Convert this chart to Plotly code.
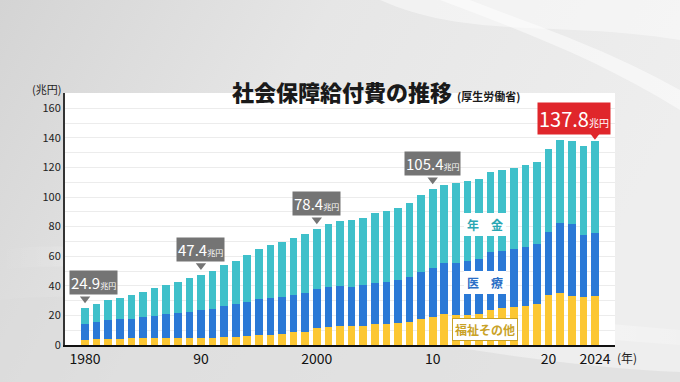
import base64
import plotly.graph_objects as go

years = list(range(1980, 2025))
# 福祉その他 (welfare & others), 医療 (medical), 年金 (pension) — 兆円
welfare = [3.7, 3.9, 4.1, 4.3, 4.4, 4.5, 4.7, 4.9, 4.8, 4.8,
           4.8, 4.9, 5.1, 5.4, 5.8, 6.7, 6.9, 7.4, 8.5, 8.9,
           11.3, 12.2, 13.1, 12.6, 13.1, 14.0, 14.4, 14.7, 15.8, 17.8,
           19.1, 20.9, 20.3, 20.0, 21.2, 23.5, 24.7, 25.5, 26.1, 27.6,
           33.5, 35.3, 32.8, 32.3, 33.0]
medical = [10.7, 11.6, 12.6, 13.1, 13.5, 14.3, 15.2, 16.0, 16.7, 17.6,
           18.6, 19.7, 21.1, 22.0, 23.1, 24.1, 25.2, 25.1, 25.0, 26.1,
           26.6, 27.1, 26.6, 26.9, 27.4, 28.1, 28.5, 29.3, 30.0, 31.6,
           33.2, 34.4, 35.2, 36.5, 36.9, 39.1, 38.9, 39.4, 40.0, 40.6,
           42.8, 47.4, 49.0, 41.8, 43.0]
pension = [10.5, 12.0, 13.4, 14.6, 15.6, 16.9, 18.6, 19.8, 21.0, 22.6,
           24.0, 25.5, 27.6, 29.4, 31.6, 34.1, 35.4, 36.9, 38.6, 40.0,
           40.5, 42.3, 44.1, 44.8, 45.5, 46.8, 47.6, 48.8, 49.9, 52.2,
           53.1, 52.8, 53.7, 54.2, 54.0, 54.5, 54.7, 55.0, 55.3, 55.7,
           55.9, 55.9, 55.9, 60.1, 61.8]
totals = [round(a + b + c, 1) for a, b, c in zip(welfare, medical, pension)]

tick_years = [1980, 1990, 2000, 2010, 2020, 2024]
tick_labels = ["1980", "90", "2000", "10", "20", "2024"]
callout_years = [1980, 1990, 2000, 2010]
final_year = 2024

series_names = ["福祉その他", "医療", "年金"]
series_colors = ["#fcc733", "#2b79d6", "#3fc0ca"]
label_text_colors = ["#c9a227", "#2b6fc6", "#2aa7b3"]

FONT = "Noto Sans CJK JP"

# decorative background (gray gradient with soft white swooshes)
bg_svg = """<svg xmlns='http://www.w3.org/2000/svg' width='680' height='382' viewBox='0 0 680 382'>
<defs>
<linearGradient id='g' x1='0' y1='0' x2='1' y2='0.3'>
<stop offset='0' stop-color='#d4d4d4'/><stop offset='0.45' stop-color='#e6e6e6'/>
<stop offset='1' stop-color='#eeeeee'/></linearGradient>
<linearGradient id='w' x1='0' y1='0' x2='1' y2='0'>
<stop offset='0' stop-color='#ffffff' stop-opacity='0'/><stop offset='0.5' stop-color='#ffffff' stop-opacity='0.7'/>
<stop offset='1' stop-color='#ffffff' stop-opacity='0.2'/></linearGradient>
</defs>
<rect width='680' height='382' fill='url(#g)'/>
<path d='M0 250 C 150 230, 300 300, 680 330 L 680 345 C 300 320, 150 250, 0 270 Z' fill='url(#w)'/>
<path d='M0 300 C 200 280, 420 360, 680 372 L 680 382 L 0 382 Z' fill='#dadada' opacity='0.6'/>
<path d='M380 0 C 470 40, 560 20, 680 40 L 680 0 Z' fill='#ffffff' opacity='0.45'/>
<path d='M440 0 C 520 30, 600 60, 680 110 L 680 90 C 600 45, 520 20, 470 0 Z' fill='#ffffff' opacity='0.5'/>
</svg>"""
bg_uri = "data:image/svg+xml;base64," + base64.b64encode(bg_svg.encode()).decode()

fig = go.Figure()
for name, vals, col in zip(series_names, [welfare, medical, pension], series_colors):
    fig.add_trace(go.Bar(x=years, y=vals, name=name, marker=dict(color=col, line=dict(width=0)),
                         hoverinfo="skip"))

def tot(y):
    return totals[years.index(y)]

# pointer triangles
fig.add_trace(go.Scatter(x=callout_years, y=[tot(y) + 6.3 for y in callout_years], mode="markers",
                         marker=dict(symbol="triangle-down", size=9, color="#747474"),
                         hoverinfo="skip", showlegend=False))
fig.add_trace(go.Scatter(x=[final_year], y=[tot(final_year) + 4.0], mode="markers",
                         marker=dict(symbol="triangle-down", size=9, color="#e0262b"),
                         hoverinfo="skip", showlegend=False))

for y in callout_years:
    fig.add_annotation(x=y, y=tot(y), xref="x", yref="y", yanchor="bottom", yshift=13,
                       xshift=8 if y == 1980 else 0,
                       text=f"<span style='font-size:15px'>{tot(y):.1f}</span><span style='font-size:8px'>兆円</span>",
                       showarrow=False, bgcolor="#747474", borderpad=1,
                       font=dict(family=FONT, color="white", size=15))
fig.add_annotation(x=final_year, y=tot(final_year), xref="x", yref="y", yanchor="bottom", yshift=6,
                   xshift=-21,
                   text=f"<span style='font-size:20px'>{tot(final_year):.1f}</span><span style='font-size:10px'>兆円</span>",
                   showarrow=False, bgcolor="#e0262b", borderpad=1,
                   font=dict(family=FONT, color="white", size=20))

# series labels
label_pos = [(2014.5, 10.5, "福祉その他"), (2014.5, 42.2, "医　療"), (2014.5, 81.4, "年　金")]
for (lx, ly, txt), tc in zip(label_pos, label_text_colors):
    fig.add_annotation(x=lx, y=ly, xref="x", yref="y", text=f"<b>{txt}</b>", showarrow=False,
                       bgcolor="white", bordercolor=tc if txt == "福祉その他" else "white",
                       borderwidth=1, borderpad=2,
                       font=dict(family=FONT, color=tc, size=12))

# title
fig.add_annotation(x=0.566, y=1.079, xref="paper", yref="paper",
                   text="社会保障給付費の推移 <span style='font-size:11px;font-weight:700'>(厚生労働省)</span>",
                   showarrow=False, font=dict(family=FONT, size=22, color="#1a1a1a", weight=900))
# unit labels
fig.add_annotation(x=0, y=1, xref="paper", yref="paper", xanchor="right", yanchor="bottom",
                   xshift=-2, yshift=-6, text="(兆円)", showarrow=False,
                   font=dict(family=FONT, size=11, color="#222"))
fig.add_annotation(x=final_year, y=0, xref="x", yref="paper", xanchor="left", yanchor="top",
                   xshift=20, yshift=-2, text="(年)", showarrow=False,
                   font=dict(family=FONT, size=12, color="#222"))

fig.add_layout_image(source=bg_uri, xref="paper", yref="paper", x=-65 / 550, y=1 + 93 / 252,
                     sizex=680 / 550, sizey=382 / 252, xanchor="left", yanchor="top",
                     sizing="stretch", layer="below")
fig.add_shape(type="rect", xref="paper", yref="paper", x0=0, x1=1, y0=0, y1=1,
              fillcolor="white", line=dict(width=0), layer="below")

fig.update_layout(
    width=680, height=382,
    margin=dict(l=65, r=65, t=93, b=37),
    paper_bgcolor="#e4e4e4", plot_bgcolor="white",
    barmode="stack", bargap=0.34, showlegend=False,
    font=dict(family=FONT, color="#222"),
    xaxis=dict(range=[1978.27, 2025.73], tickvals=tick_years, ticktext=tick_labels,
               showgrid=False, showline=True, linecolor="#111", linewidth=1.5,
               ticks="", tickfont=dict(size=14, color="#111"), fixedrange=True),
    yaxis=dict(range=[0, 170.3], tickvals=list(range(0, 161, 20)), showgrid=True,
               gridcolor="#ececec", gridwidth=1, zeroline=False,
               minor=dict(tickvals=list(range(10, 171, 20)), showgrid=True, gridcolor="#ececec"),
               showline=True, linecolor="#333", linewidth=2, ticks="",
               tickfont=dict(size=11, color="#222"), fixedrange=True),
)

fig.write_html("out.html", config={"displayModeBar": False},
               post_script="document.body.style.margin='0';document.body.style.background='#e4e4e4';")
